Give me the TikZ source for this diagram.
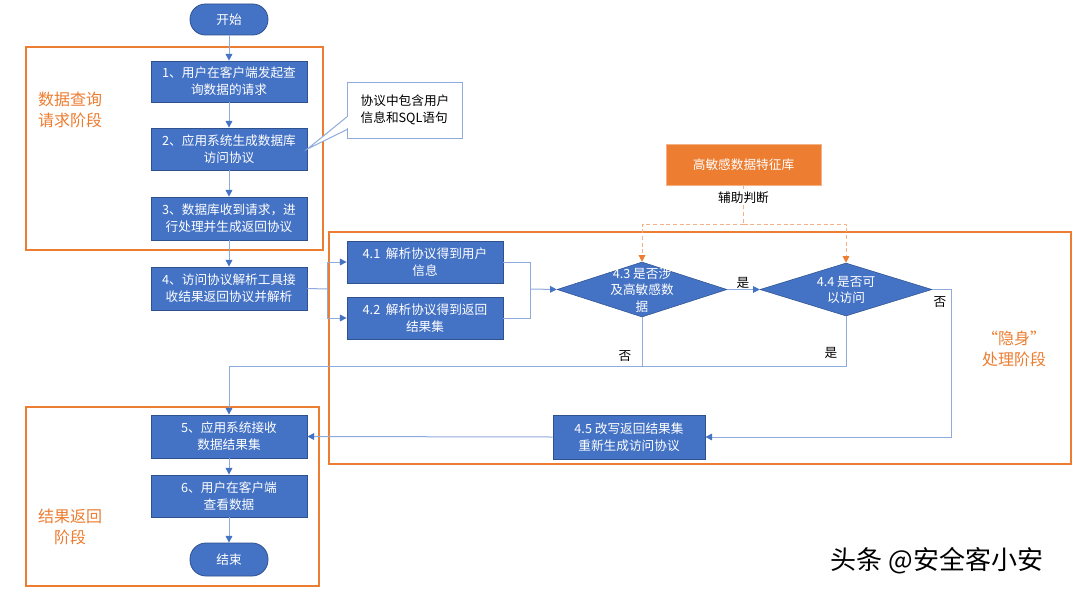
\documentclass[tikz,border=0pt]{standalone}
\usepackage{fontspec}
\setmainfont{Noto Sans CJK SC}
\usetikzlibrary{shapes.geometric,arrows.meta,calc}
\definecolor{bblue}{HTML}{4472C4}
\definecolor{bborder}{HTML}{2F528F}
\definecolor{lblue}{HTML}{8FAADC}
\definecolor{orng}{HTML}{ED7D31}
\definecolor{lorng}{HTML}{F4B183}
\begin{document}
\begin{tikzpicture}[x=0.75pt,y=-0.75pt,
  txt/.style={font=\fontsize{9.5pt}{12.6pt}\selectfont},
  proc/.style={txt,draw=bborder,line width=0.6pt,fill=bblue,text=white,align=center,inner sep=0pt,minimum width=117pt},
  term/.style={txt,draw=bborder,line width=0.6pt,fill=bblue,text=white,rounded corners=11.5pt,inner sep=0pt,minimum width=58.5pt},
  dec/.style={diamond,draw=bborder,line width=0.4pt,fill=bblue,inner sep=0pt},
  dtext/.style={txt,text=white,align=center,font=\fontsize{9.5pt}{12.3pt}\selectfont},
  conn/.style={draw=lblue,line width=0.75pt},
  arr/.style={conn,-{Triangle[length=5pt,width=5pt,color=bblue]}},
  dsh/.style={draw=lorng,line width=0.75pt,dash pattern=on 3pt off 2pt},
  dsharr/.style={dsh,-{Triangle[length=5pt,width=5pt,color=orng]}},
  phase/.style={draw=orng,line width=0.8pt},
  phtext/.style={text=orng,align=center,font=\fontsize{12pt}{15.5pt}\selectfont},
  lbl/.style={txt,text=black,inner sep=1pt}]
\fill[white] (0,0) rectangle (1080,592);
\useasboundingbox (0,0) rectangle (1080,592);
% phase boxes
\draw[phase] (26,47) rectangle (323,250);
\draw[phase] (329,232) rectangle (1071,464);
\draw[phase] (26,407) rectangle (319,586);
\node[phtext] (ph1) at (70,110) {数据查询\\请求阶段};
\node[phtext] (ph2) at (70,527) {结果返回\\阶段};
\node[phtext] (ph3) at (1014,349) {“隐身”\\处理阶段};
% nodes
\node[term,minimum height=23.25pt] (start) at (229,19.5) {开始};
\node[proc,minimum height=30.75pt] (b1) at (229,81.5) {1、用户在客户端发起查\\询数据的请求};
\node[proc,minimum height=31.5pt] (b2) at (229,149) {2、应用系统生成数据库\\访问协议};
\node[proc,minimum height=32.25pt] (b3) at (229,218.5) {3、数据库收到请求，进\\行处理并生成返回协议};
\node[proc,minimum height=32.25pt] (b4) at (229,288.5) {4、访问协议解析工具接\\收结果返回协议并解析};
\node[proc,minimum height=31.5pt] (b41) at (425,262) {4.1\ \ 解析协议得到用户\\信息};
\node[proc,minimum height=31.5pt] (b42) at (425,318) {4.2\ \ 解析协议得到返回\\结果集};
\node[dec,minimum width=127.5pt,minimum height=41.25pt] (d43) at (642,289.5) {};
\node[dtext] (t43) at (642,290) {4.3 是否涉\\及高敏感数\\据};
\node[dec,minimum width=129pt,minimum height=39.75pt] (d44) at (846,289.5) {};
\node[dtext] (t44) at (846,290) {4.4 是否可\\以访问};
\node[proc,minimum width=114pt,minimum height=33pt] (b45) at (629,437) {4.5 改写返回结果集\\重新生成访问协议};
\node[proc,minimum height=32.25pt] (b5) at (229,436.5) {5、应用系统接收\\数据结果集};
\node[proc,minimum height=31.5pt] (b6) at (229,496) {6、用户在客户端\\查看数据};
\node[term,minimum height=24.75pt,rounded corners=12pt] (end) at (229,559.5) {结束};
\node[txt,fill=orng,draw=lorng,line width=0.6pt,text=white,minimum width=116.25pt,minimum height=30.75pt,inner sep=0pt] (db) at (743.5,164.5) {高敏感数据特征库};
% callout
\coordinate (cp1) at (348,116);
\coordinate (cp2) at (348,129);
\draw[conn,fill=white] (b2.east) -- (cp1) -- (cp2) -- cycle;
\node[txt,draw=lblue,line width=0.75pt,fill=white,align=left,minimum width=86pt,minimum height=42pt,inner sep=0pt] (callout) at (405,110) {协议中包含用户\\信息和SQL语句};
\fill[white] ($(cp1)+(-1,0.6)$) rectangle ($(cp2)+(1.5,-0.6)$);
% connectors
\draw[arr] (start) -- (b1);
\draw[arr] (b1) -- (b2);
\draw[arr] (b2) -- (b3);
\draw[arr] (b3) -- (b4);
\coordinate (j1) at (327,289);
\draw[conn] (b4.east) -- (j1);
\draw[arr] (j1) |- (b41.west);
\draw[arr] (j1) |- (b42.west);
\coordinate (j2) at (530,289);
\draw[conn] (b41.east) -| (j2);
\draw[conn] (b42.east) -| (j2);
\draw[arr] (j2) -- (d43.west);
\draw[arr] (d43.east) -- (d44.west);
\coordinate (c1) at (951,437);
\draw[arr] (d44.east) -| (c1) -- (b45.east);
\coordinate (c2) at (229,366);
\draw[arr] (d44.south) |- (c2) -- (b5.north);
\draw[conn] (d43.south) -- (d43.south |- c2);
\draw[arr] (b45.west) -- (b5.east);
\draw[arr] (b5) -- (b6);
\draw[arr] (b6) -- (end);
\coordinate (dj) at (743.5,224);
\draw[dsh] (db.south) -- (dj);
\draw[dsharr] (dj) -| (d43.north);
\draw[dsharr] (dj) -| (d44.north);
\node[lbl,fill=white] (aux) at (743.5,198) {辅助判断};
% labels
\node[lbl] (yes1) at (743,283) {是};
\node[lbl] (no1) at (940,302) {否};
\node[lbl] (yes2) at (831,353) {是};
\node[lbl] (no2) at (625,356) {否};
\node[text=black,font=\fontsize{19.5pt}{22pt}\selectfont,inner sep=0pt] (wm) at (937,561) {头条 @安全客小安};
\end{tikzpicture}
\end{document}
